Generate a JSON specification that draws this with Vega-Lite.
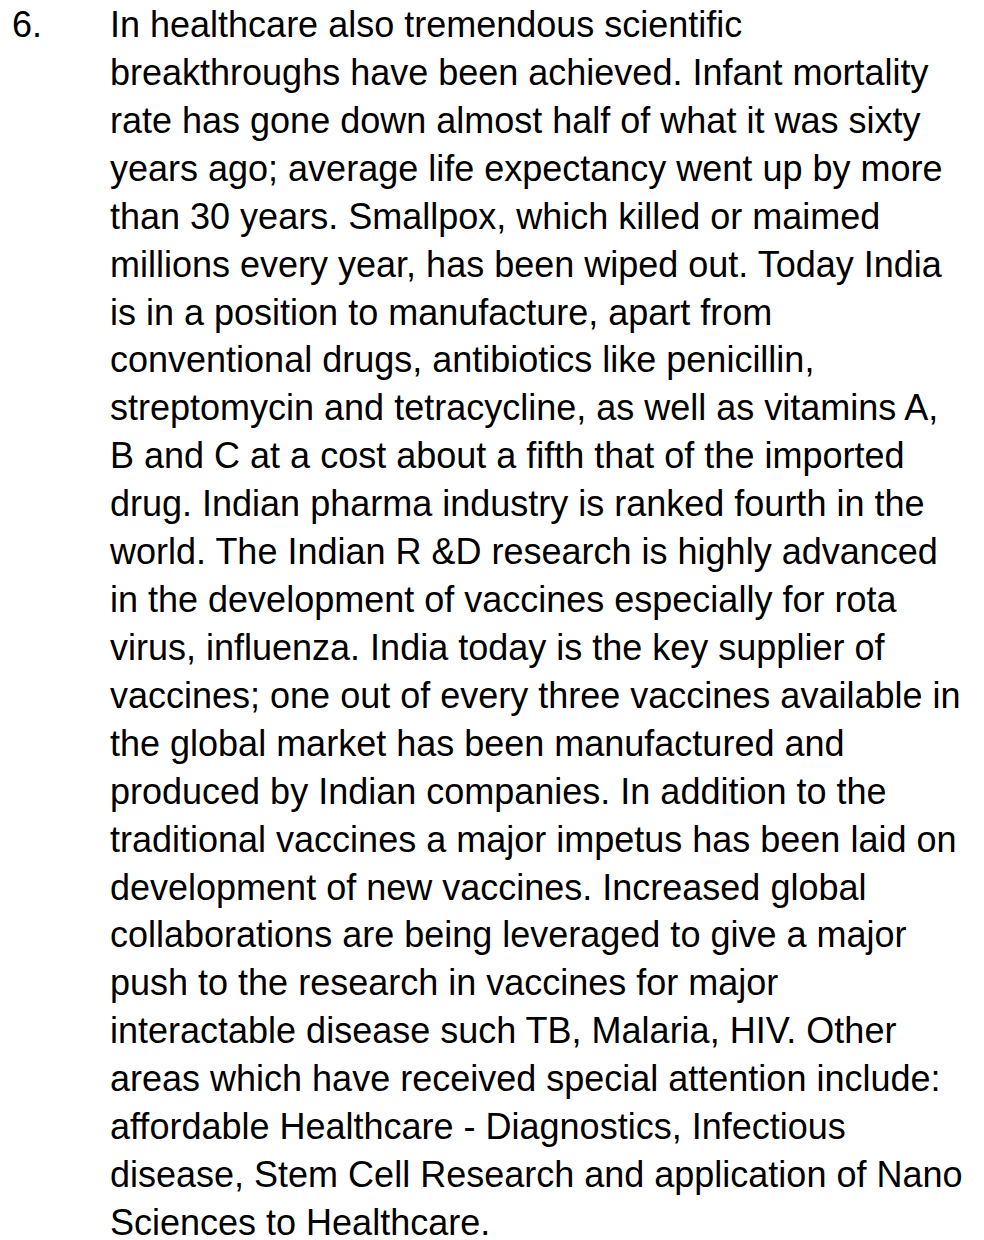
{
  "$schema": "https://vega.github.io/schema/vega-lite/v6.json",
  "width": 984,
  "height": 1240,
  "autosize": {"type": "fit", "contains": "padding"},
  "padding": 0,
  "background": "white",
  "config": {"view": {"stroke": null}},
  "data": {
    "values": [
      {"line": 1, "kind": "num", "text": "6."},
      {"line": 1, "kind": "body", "text": "In healthcare also tremendous scientific"},
      {"line": 2, "kind": "body", "text": "breakthroughs have been achieved. Infant mortality"},
      {"line": 3, "kind": "body", "text": "rate has gone down almost half of what it was sixty"},
      {"line": 4, "kind": "body", "text": "years ago; average life expectancy went up by more"},
      {"line": 5, "kind": "body", "text": "than 30 years. Smallpox, which killed or maimed"},
      {"line": 6, "kind": "body", "text": "millions every year, has been wiped out. Today India"},
      {"line": 7, "kind": "body", "text": "is in a position to manufacture, apart from"},
      {"line": 8, "kind": "body", "text": "conventional drugs, antibiotics like penicillin,"},
      {"line": 9, "kind": "body", "text": "streptomycin and tetracycline, as well as vitamins A,"},
      {"line": 10, "kind": "body", "text": "B and C at a cost about a fifth that of the imported"},
      {"line": 11, "kind": "body", "text": "drug. Indian pharma industry is ranked fourth in the"},
      {"line": 12, "kind": "body", "text": "world. The Indian R &D research is highly advanced"},
      {"line": 13, "kind": "body", "text": "in the development of vaccines especially for rota"},
      {"line": 14, "kind": "body", "text": "virus, influenza. India today is the key supplier of"},
      {"line": 15, "kind": "body", "text": "vaccines; one out of every three vaccines available in"},
      {"line": 16, "kind": "body", "text": "the global market has been manufactured and"},
      {"line": 17, "kind": "body", "text": "produced by Indian companies. In addition to the"},
      {"line": 18, "kind": "body", "text": "traditional vaccines a major impetus has been laid on"},
      {"line": 19, "kind": "body", "text": "development of new vaccines. Increased global"},
      {"line": 20, "kind": "body", "text": "collaborations are being leveraged to give a major"},
      {"line": 21, "kind": "body", "text": "push to the research in vaccines for major"},
      {"line": 22, "kind": "body", "text": "interactable disease such TB, Malaria, HIV. Other"},
      {"line": 23, "kind": "body", "text": "areas which have received special attention include:"},
      {"line": 24, "kind": "body", "text": "affordable Healthcare - Diagnostics, Infectious"},
      {"line": 25, "kind": "body", "text": "disease, Stem Cell Research and application of Nano"},
      {"line": 26, "kind": "body", "text": "Sciences to Healthcare."}
    ]
  },
  "mark": {"type": "text", "align": "left", "baseline": "alphabetic", "font": "Liberation Sans", "fontSize": 36, "color": "#000000"},
  "encoding": {
    "x": {"field": "kind", "type": "nominal", "scale": {"type": "point", "padding": 0, "domain": ["num", "body"], "range": [12, 110]}, "axis": null},
    "y": {"field": "line", "type": "quantitative", "scale": {"domain": [1, 26], "range": [37, 1235], "nice": false, "zero": false}, "axis": null},
    "text": {"field": "text", "type": "nominal"}
  }
}
